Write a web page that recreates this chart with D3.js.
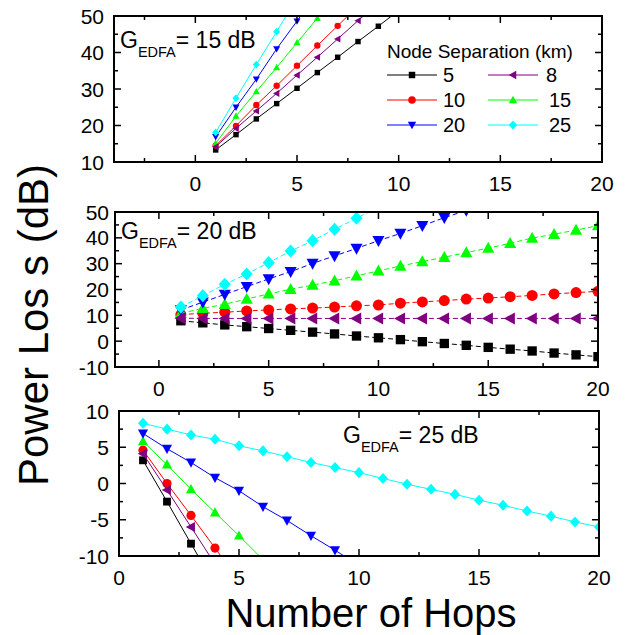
<!DOCTYPE html>
<html>
<head>
<meta charset="utf-8">
<script src="https://cdn.jsdelivr.net/npm/d3@7/dist/d3.min.js"></script>
<style>
body { margin: 0; background: #fff; }
text { font-family: Arial, "Liberation Sans", sans-serif; fill: #000; }
</style>
</head>
<body>
<script>
// hop numbers (x values)
const hops = [1,2,3,4,5,6,7,8,9,10,11,12,13,14,15,16,17,18,19,20];

// node separations (km), legend order and the order the curves are drawn
const separations = ["5","8","10","15","20","25"];
const drawOrder = ["5","10","15","20","25","8"];
const colors = {"5":"#000000","8":"#800080","10":"#ff0000","15":"#00ff00","20":"#0000ff","25":"#00ffff"};
const shapes = {"5":"square","8":"left","10":"circle","15":"up","20":"down","25":"diamond"};

// G_EDFA = 15 dB, power loss (dB) per hop
const g15_km5  = [13.3,17.5,21.8,26.0,30.2,34.5,38.7,43.0,47.2,51.5];
const g15_km8  = [14.2,19.2,24.0,28.8,33.8,38.7,43.7,48.7,53.6];
const g15_km10 = [14.5,19.9,25.6,30.9,36.4,41.9,47.3,52.8];
const g15_km15 = [15.1,22.6,29.3,35.9,42.7,49.4,56.2];
const g15_km20 = [16.9,25.0,32.7,41.0,48.6,56.6];
const g15_km25 = [18.1,27.5,36.7,45.7,55.0];

// G_EDFA = 20 dB
const g20_km5  = [7.9,7.1,6.3,5.6,4.9,4.2,3.5,2.8,2.0,1.3,0.6,-0.2,-0.9,-1.6,-2.4,-3.1,-3.8,-4.6,-5.3,-6.0];
const g20_km8  = [8.9,8.8,8.8,8.8,8.8,8.8,8.8,8.8,8.8,8.8,8.8,8.8,8.8,8.8,8.8,8.8,8.8,8.8,8.8,8.8];
const g20_km10 = [10.3,10.8,11.2,11.7,12.1,12.5,12.8,13.2,13.7,14.0,14.7,15.2,15.7,16.3,16.7,17.2,17.7,18.3,18.8,19.3];
const g20_km15 = [10.8,12.7,14.3,16.3,18.3,20.1,21.7,23.4,25.3,27.2,29.1,30.8,32.5,34.3,36.0,37.9,39.9,41.4,43.0,44.7];
const g20_km20 = [12.1,15.1,18.1,21.1,24.1,26.9,30.1,33.0,35.9,38.9,41.7,44.7,47.8,50.6,53.5];
const g20_km25 = [13.2,17.6,22.0,26.0,30.4,34.9,38.9,43.3,47.6,51.9];

// G_EDFA = 25 dB
const g25_km5  = [3.2,-2.5,-8.3,-14.0];
const g25_km8  = [4.1,-0.9,-6.0,-11.1];
const g25_km10 = [4.6,0.0,-4.4,-8.9,-13.4];
const g25_km15 = [5.8,2.6,-0.8,-4.0,-7.2,-10.5];
const g25_km20 = [6.9,4.8,2.9,0.8,-1.0,-3.2,-5.1,-7.2,-9.2,-11.3];
const g25_km25 = [8.3,7.5,6.7,6.1,5.2,4.5,3.7,2.9,2.2,1.5,0.7,-0.1,-0.8,-1.5,-2.3,-3.0,-3.8,-4.5,-5.3,-6.0];

// tick labels
const xTickLabels = [0,5,10,15,20];
const yTicks15 = [10,20,30,40,50];
const yTicks20 = [-10,0,10,20,30,40,50];
const yTicks25 = [-10,-5,0,5,10];

const W = 627, H = 635;

const panels = [
  { gain:"15", box:{l:114,r:602,t:16,b:162}, xDom:[-4,20], yDom:[10,50],
    yTicks:yTicks15, yMinor:5, dash:null, mr:3.2, labelGap:10,
    series:{"5":g15_km5,"8":g15_km8,"10":g15_km10,"15":g15_km15,"20":g15_km20,"25":g15_km25},
    note:{x:120, y:48} },
  { gain:"20", box:{l:115,r:598,t:212,b:367}, xDom:[-2,20], yDom:[-10,50],
    yTicks:yTicks20, yMinor:5, dash:"5,3", mr:5.5, labelGap:6,
    series:{"5":g20_km5,"8":g20_km8,"10":g20_km10,"15":g20_km15,"20":g20_km20,"25":g20_km25},
    note:{x:121, y:239} },
  { gain:"25", box:{l:119,r:599,t:411,b:556}, xDom:[0,20], yDom:[-10,10],
    yTicks:yTicks25, yMinor:2.5, dash:null, mr:4.6, labelGap:10,
    series:{"5":g25_km5,"8":g25_km8,"10":g25_km10,"15":g25_km15,"20":g25_km20,"25":g25_km25},
    note:{x:343, y:443} }
];

function markerPath(shape, r) {
  switch (shape) {
    case "square":  return `M${-0.85*r},${-0.85*r}h${1.7*r}v${1.7*r}h${-1.7*r}Z`;
    case "circle":  return `M${-r},0a${r},${r} 0 1,0 ${2*r},0a${r},${r} 0 1,0 ${-2*r},0Z`;
    case "up":      return `M0,${-1.15*r}L${1.1*r},${0.85*r}L${-1.1*r},${0.85*r}Z`;
    case "down":    return `M0,${1.15*r}L${1.1*r},${-0.85*r}L${-1.1*r},${-0.85*r}Z`;
    case "left":    return `M${-1.15*r},0L${0.85*r},${-1.1*r}L${0.85*r},${1.1*r}Z`;
    case "diamond": return `M0,${-1.2*r}L${1.1*r},0L0,${1.2*r}L${-1.1*r},0Z`;
  }
}

const svg = d3.select("body").append("svg")
  .attr("width", W).attr("height", H);

function drawPanel(p, idx) {
  const x = d3.scaleLinear().domain(p.xDom).range([p.box.l, p.box.r]);
  const y = d3.scaleLinear().domain(p.yDom).range([p.box.b, p.box.t]);
  const g = svg.append("g");

  // clip to the frame
  const clipId = "clip" + idx;
  svg.append("clipPath").attr("id", clipId)
    .append("rect")
    .attr("x", p.box.l).attr("y", p.box.t)
    .attr("width", p.box.r - p.box.l).attr("height", p.box.b - p.box.t);

  const plot = g.append("g").attr("clip-path", `url(#${clipId})`);
  const line = d3.line().x(d => x(d[0])).y(d => y(d[1]));

  drawOrder.forEach(k => {
    const pts = p.series[k].map((v, i) => [hops[i], v]);
    plot.append("path")
      .attr("d", line(pts))
      .attr("fill", "none")
      .attr("stroke", colors[k])
      .attr("stroke-width", 1)
      .attr("stroke-dasharray", p.dash);
    plot.selectAll(null)
      .data(pts)
      .enter()
      .append("path")
      .attr("transform", d => `translate(${x(d[0])},${y(d[1])})`)
      .attr("d", markerPath(shapes[k], p.mr))
      .attr("fill", colors[k]);
  });

  // ticks (inside, all four sides)
  const xMajor = d3.range(Math.ceil(p.xDom[0]/5)*5, p.xDom[1]+0.01, 5);
  const xAll = d3.range(Math.ceil(p.xDom[0]/2.5)*2.5, p.xDom[1]+0.01, 2.5);
  const yAll = d3.range(p.yDom[0], p.yDom[1]+0.01, p.yMinor);
  const ticks = g.append("g").attr("stroke", "#000").attr("stroke-width", 1.5);
  xAll.forEach(v => {
    const len = xMajor.includes(v) ? 7 : 4;
    ticks.append("line").attr("x1", x(v)).attr("x2", x(v)).attr("y1", p.box.b).attr("y2", p.box.b - len);
    ticks.append("line").attr("x1", x(v)).attr("x2", x(v)).attr("y1", p.box.t).attr("y2", p.box.t + len);
  });
  yAll.forEach(v => {
    const len = p.yTicks.includes(v) ? 7 : 4;
    ticks.append("line").attr("y1", y(v)).attr("y2", y(v)).attr("x1", p.box.l).attr("x2", p.box.l + len);
    ticks.append("line").attr("y1", y(v)).attr("y2", y(v)).attr("x1", p.box.r).attr("x2", p.box.r - len);
  });

  // frame
  g.append("rect")
    .attr("x", p.box.l).attr("y", p.box.t)
    .attr("width", p.box.r - p.box.l).attr("height", p.box.b - p.box.t)
    .attr("fill", "none").attr("stroke", "#000").attr("stroke-width", 2);

  // tick labels
  g.selectAll(null).data(xTickLabels).enter().append("text")
    .attr("x", d => x(d)).attr("y", p.box.b + 29)
    .attr("text-anchor", "middle").attr("font-size", 21)
    .text(d => d);
  g.selectAll(null).data(p.yTicks).enter().append("text")
    .attr("x", p.box.l - p.labelGap).attr("y", d => y(d)).attr("dy", "0.36em")
    .attr("text-anchor", "end").attr("font-size", 21)
    .text(d => d);

  // G_EDFA note
  const note = g.append("text").attr("x", p.note.x).attr("y", p.note.y).attr("font-size", 23);
  note.append("tspan").text("G");
  note.append("tspan").attr("font-size", 14.5).attr("dy", 9).text("EDFA");
  note.append("tspan").attr("dy", -9).text("= " + p.gain + " dB");
}

panels.forEach(drawPanel);

// legend
const legRows = [75, 100, 125];
const legCols = [{x1:387, x2:437, m:412, t:443}, {x1:488, x2:538, m:513, t:546}];
svg.append("text").attr("x", 387).attr("y", 58).attr("font-size", 19)
  .text("Node Separation (km)");
const legOrder = [["5","8"],["10","15"],["20","25"]];
legOrder.forEach((row, ri) => {
  row.forEach((k, ci) => {
    const c = legCols[ci], yy = legRows[ri];
    svg.append("line").attr("x1", c.x1).attr("x2", c.x2).attr("y1", yy).attr("y2", yy)
      .attr("stroke", colors[k]).attr("stroke-width", 1.2);
    svg.append("path").attr("transform", `translate(${c.m},${yy})`)
      .attr("d", markerPath(shapes[k], 3.8)).attr("fill", colors[k]);
    svg.append("text").attr("x", c.t + (ci === 1 && k.length > 1 ? 3 : 0)).attr("y", yy + 7)
      .attr("font-size", 20).text(k);
  });
});

// axis titles
svg.append("text")
  .attr("transform", "translate(48,325) rotate(-90)")
  .attr("text-anchor", "middle").attr("font-size", 42)
  .text("Power Los s (dB)");
svg.append("text")
  .attr("x", 371).attr("y", 627)
  .attr("text-anchor", "middle").attr("font-size", 40)
  .text("Number of Hops");
</script>
</body>
</html>
